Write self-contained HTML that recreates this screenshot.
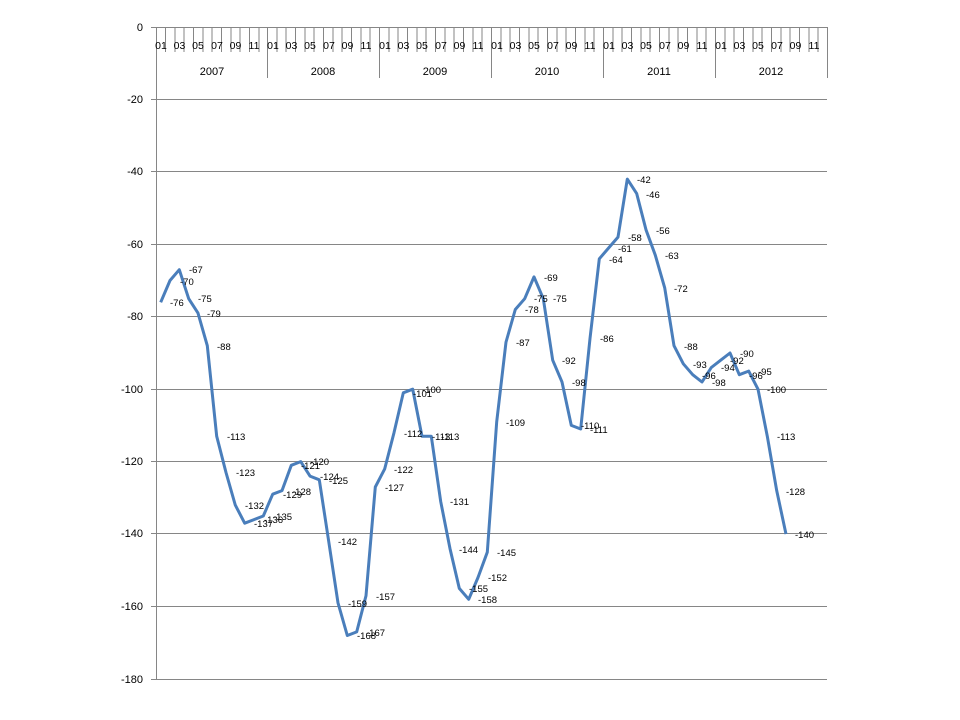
<!DOCTYPE html>
<html><head><meta charset="utf-8"><style>
html,body{margin:0;padding:0;background:#fff;}
svg{display:block;font-family:"Liberation Sans",sans-serif;}
</style></head><body>
<svg width="960" height="720" viewBox="0 0 960 720">
<g stroke="#868686" stroke-width="1" fill="none">
<line x1="151" y1="27.5" x2="827" y2="27.5"/>
<line x1="151" y1="99.5" x2="827" y2="99.5"/>
<line x1="151" y1="171.5" x2="827" y2="171.5"/>
<line x1="151" y1="244.5" x2="827" y2="244.5"/>
<line x1="151" y1="316.5" x2="827" y2="316.5"/>
<line x1="151" y1="389.5" x2="827" y2="389.5"/>
<line x1="151" y1="461.5" x2="827" y2="461.5"/>
<line x1="151" y1="533.5" x2="827" y2="533.5"/>
<line x1="151" y1="606.5" x2="827" y2="606.5"/>
<line x1="151" y1="679.5" x2="827" y2="679.5"/>
<line x1="156.5" y1="27" x2="156.5" y2="679"/>
<line x1="267.5" y1="27" x2="267.5" y2="78"/>
<line x1="379.5" y1="27" x2="379.5" y2="78"/>
<line x1="491.5" y1="27" x2="491.5" y2="78"/>
<line x1="603.5" y1="27" x2="603.5" y2="78"/>
<line x1="715.5" y1="27" x2="715.5" y2="78"/>
<line x1="827.5" y1="27" x2="827.5" y2="78"/>
<path d="M165.5 27v25M175 27v25M184 27v25M193.5 27v25M203 27v25M212 27v25M221.5 27v25M231 27v25M240 27v25M249.5 27v25M259 27v25M277 27v25M286 27v25M295.5 27v25M305 27v25M314 27v25M323.5 27v25M333 27v25M342 27v25M351.5 27v25M361 27v25M370 27v25M389 27v25M398 27v25M407.5 27v25M417 27v25M426 27v25M435.5 27v25M445 27v25M454 27v25M463.5 27v25M473 27v25M482 27v25M501 27v25M510 27v25M519.5 27v25M529 27v25M538 27v25M547.5 27v25M557 27v25M566 27v25M575.5 27v25M585 27v25M594 27v25M613 27v25M622 27v25M631.5 27v25M641 27v25M650 27v25M659.5 27v25M669 27v25M678 27v25M687.5 27v25M697 27v25M706 27v25M725 27v25M734 27v25M743.5 27v25M753 27v25M762 27v25M771.5 27v25M781 27v25M790 27v25M799.5 27v25M809 27v25M818 27v25"/>
</g>
<g font-size="11" fill="#000" text-anchor="end">
<text x="143" y="31">0</text>
<text x="143" y="103">-20</text>
<text x="143" y="175">-40</text>
<text x="143" y="248">-60</text>
<text x="143" y="320">-80</text>
<text x="143" y="393">-100</text>
<text x="143" y="465">-120</text>
<text x="143" y="537">-140</text>
<text x="143" y="610">-160</text>
<text x="143" y="683">-180</text>
</g>
<g font-size="10.5" fill="#000" text-anchor="middle">
<text x="161" y="49">01</text><text x="179.5" y="49">03</text><text x="198" y="49">05</text><text x="217" y="49">07</text><text x="235.5" y="49">09</text><text x="254" y="49">11</text>
<text x="273" y="49">01</text><text x="291.5" y="49">03</text><text x="310" y="49">05</text><text x="329" y="49">07</text><text x="347.5" y="49">09</text><text x="366" y="49">11</text>
<text x="385" y="49">01</text><text x="403.5" y="49">03</text><text x="422" y="49">05</text><text x="441" y="49">07</text><text x="459.5" y="49">09</text><text x="478" y="49">11</text>
<text x="497" y="49">01</text><text x="515.5" y="49">03</text><text x="534" y="49">05</text><text x="553" y="49">07</text><text x="571.5" y="49">09</text><text x="590" y="49">11</text>
<text x="609" y="49">01</text><text x="627.5" y="49">03</text><text x="646" y="49">05</text><text x="665" y="49">07</text><text x="683.5" y="49">09</text><text x="702" y="49">11</text>
<text x="721" y="49">01</text><text x="739.5" y="49">03</text><text x="758" y="49">05</text><text x="777" y="49">07</text><text x="795.5" y="49">09</text><text x="814" y="49">11</text>
<text x="212" y="75" font-size="11">2007</text><text x="323" y="75" font-size="11">2008</text><text x="435" y="75" font-size="11">2009</text><text x="547" y="75" font-size="11">2010</text><text x="659" y="75" font-size="11">2011</text><text x="771" y="75" font-size="11">2012</text>
</g>
<polyline fill="none" stroke="#4a7ebb" stroke-width="3" stroke-linejoin="round" points="160.7,302.3 170,280.5 179.3,269.7 188.7,298.7 198,313.1 207.3,345.7 216.7,436.3 226,472.5 235.3,505.1 244.7,523.2 254,519.6 263.3,516 272.7,494.2 282,490.6 291.3,465.3 300.7,461.6 310,476.1 319.3,479.8 328.7,541.3 338,602.9 347.3,635.5 356.7,631.9 366,595.7 375.3,487 384.7,468.9 394,432.7 403.3,392.8 412.7,389.2 422,436.3 431.3,436.3 440.7,501.5 450,548.6 459.3,588.4 468.7,599.3 478,577.5 487.3,552.2 496.7,421.8 506,342.1 515.3,309.5 524.7,298.7 534,276.9 543.3,298.7 552.7,360.2 562,382 571.3,425.4 580.7,429 590,338.5 599.3,258.8 608.7,247.9 618,237.1 627.3,179.1 636.7,193.6 646,229.8 655.3,255.2 664.7,287.8 674,345.7 683.3,363.8 692.7,374.7 702,382 711.3,367.5 720.7,360.2 730,353 739.3,374.7 748.7,371.1 758,389.2 767.3,436.3 776.7,490.6 786,534.1"/>
<g font-size="9.5" fill="#000">
<text x="170" y="306">-76</text><text x="180" y="285">-70</text><text x="189" y="273">-67</text><text x="198" y="302">-75</text><text x="207" y="317">-79</text><text x="217" y="350">-88</text><text x="227" y="440">-113</text><text x="236" y="476">-123</text><text x="245" y="509">-132</text><text x="254" y="527">-137</text><text x="264" y="523">-136</text><text x="273" y="520">-135</text>
<text x="283" y="498">-129</text><text x="292" y="495">-128</text><text x="301" y="469">-121</text><text x="310" y="465">-120</text><text x="320" y="480">-124</text><text x="329" y="484">-125</text><text x="338" y="545">-142</text><text x="348" y="607">-159</text><text x="357" y="639">-168</text><text x="366" y="636">-167</text><text x="376" y="600">-157</text><text x="385" y="491">-127</text>
<text x="394" y="473">-122</text><text x="404" y="437">-112</text><text x="413" y="397">-101</text><text x="422" y="393">-100</text><text x="432" y="440">-113</text><text x="441" y="440">-113</text><text x="450" y="505">-131</text><text x="459" y="553">-144</text><text x="469" y="592">-155</text><text x="478" y="603">-158</text><text x="488" y="581">-152</text><text x="497" y="556">-145</text>
<text x="506" y="426">-109</text><text x="516" y="346">-87</text><text x="525" y="313">-78</text><text x="534" y="302">-75</text><text x="544" y="281">-69</text><text x="553" y="302">-75</text><text x="562" y="364">-92</text><text x="572" y="386">-98</text><text x="581" y="429">-110</text><text x="590" y="433">-111</text><text x="600" y="342">-86</text><text x="609" y="263">-64</text>
<text x="618" y="252">-61</text><text x="628" y="241">-58</text><text x="637" y="183">-42</text><text x="646" y="198">-46</text><text x="656" y="234">-56</text><text x="665" y="259">-63</text><text x="674" y="292">-72</text><text x="684" y="350">-88</text><text x="693" y="368">-93</text><text x="702" y="379">-96</text><text x="712" y="386">-98</text><text x="721" y="371">-94</text>
<text x="730" y="364">-92</text><text x="740" y="357">-90</text><text x="749" y="379">-96</text><text x="758" y="375">-95</text><text x="767" y="393">-100</text><text x="777" y="440">-113</text><text x="786" y="495">-128</text><text x="795" y="538">-140</text>
</g>
</svg>
</body></html>
